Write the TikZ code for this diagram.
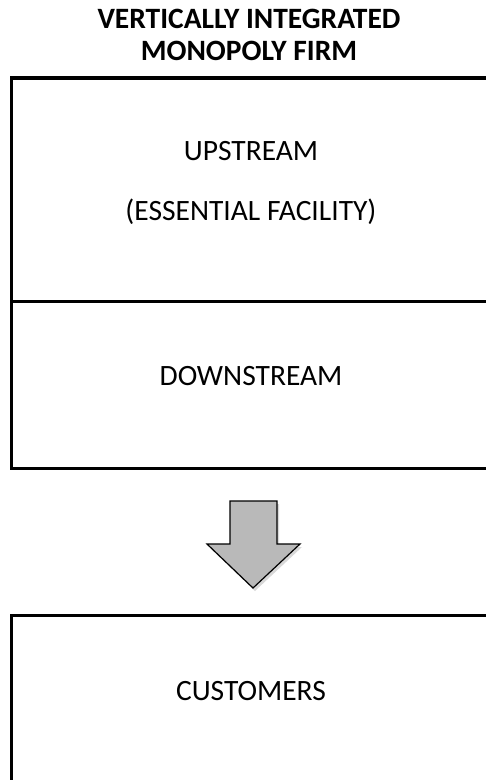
\documentclass[tikz,border=0pt]{standalone}
\usepackage{fontspec}
\setmainfont{Carlito}
\usetikzlibrary{positioning,shadows}

\tikzset{
  boxline/.style={line width=3.4pt,line cap=rect},
  boxlab/.style={font=\fontsize{29.5}{33}\selectfont,inner sep=0pt,anchor=center},
  titlelab/.style={font=\fontsize{29.5}{32.5}\selectfont\bfseries,align=center,inner sep=0pt},
  downarrow/.style={draw=black,line width=1.2pt,fill=gray!55,line join=miter,
    drop shadow={shadow xshift=2pt,shadow yshift=-3pt,fill=black!30}}
}

\begin{document}
\begin{tikzpicture}[x=1pt,y=-1pt]
\useasboundingbox (0,0) rectangle (486,780);
\clip (0,0) rectangle (486,780);

% Title.
\node[titlelab] (title) at (249,35) {VERTICALLY INTEGRATED\\MONOPOLY FIRM};

% Firm box, split in upstream and downstream parts.
\draw[boxline] (11.5,78) rectangle (495,468.5);
\draw[boxline] (11.5,301.5) -- (495,301.5);
\node[boxlab] (up) at (251,151) {UPSTREAM};
\node[boxlab] (ess) at (251,212) {(ESSENTIAL FACILITY)};
\node[boxlab] (down) at (251,376) {DOWNSTREAM};

% Customers box.
\draw[boxline] (11.5,615.5) rectangle (495,800);
\node[boxlab] (cust) at (251,691) {CUSTOMERS};

% Block arrow between the boxes.
\draw[downarrow] (230,501) -- (277,501) -- (277,544) -- (300,544)
  -- (253,588) -- (207,544) -- (230,544) -- cycle;
\end{tikzpicture}
\end{document}
